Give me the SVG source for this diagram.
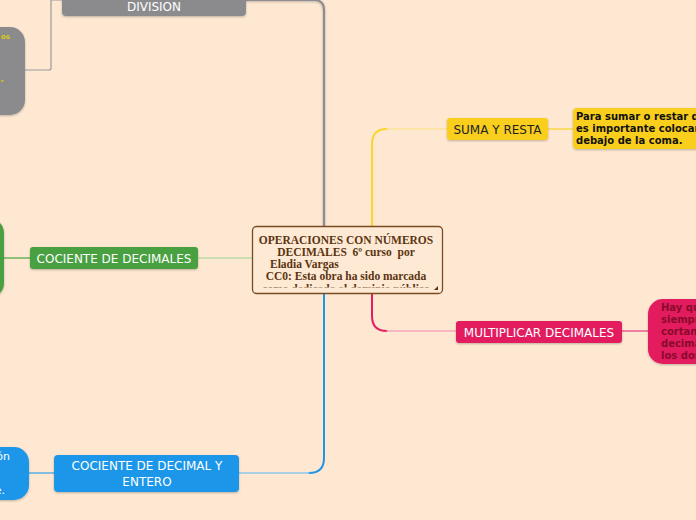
<svg xmlns="http://www.w3.org/2000/svg" width="696" height="520" viewBox="0 0 696 520">
<defs>
<filter id="sh" x="-10%" y="-20%" width="130%" height="160%">
<feDropShadow dx="0" dy="1" stdDeviation="1.2" flood-color="#000" flood-opacity="0.25"/>
</filter>
<clipPath id="cc"><rect x="252" y="226" width="191" height="61.5"/></clipPath>
<style>
.lbl{font-family:"DejaVu Sans",Verdana,sans-serif;font-size:12px;text-anchor:middle}
.note{font-family:"DejaVu Sans",Verdana,sans-serif;font-size:10px;font-weight:bold}
.ctr{font-family:"Liberation Serif","Times New Roman",serif;font-size:11.5px;font-weight:bold;fill:#5b3411}
.c{fill:none;stroke-linecap:round}
</style>
</defs>
<rect width="696" height="520" fill="#FEE8D2"/>
<g id="connectors">
<path class="c" d="M324,226 V10 Q324,0 314,0 H246" stroke="#8d8d91" stroke-width="2.2" filter="url(#sh)"/>
<path class="c" d="M62,0 H51 V68 Q51,70 49,70 H25" stroke="#9a9a9c" stroke-width="1.2"/>
<path class="c" d="M252,258 H198" stroke="#b9daa5" stroke-width="1.5"/>
<path class="c" d="M30,258 H4" stroke="#6db45c" stroke-width="1.5"/>
<path class="c" d="M324,293 V458 Q324,473 309,473" stroke="#1e96e8" stroke-width="2"/>
<path class="c" d="M309,473 H239" stroke="#8cc6ec" stroke-width="1.5"/>
<path class="c" d="M54,473 H29" stroke="#5aaee8" stroke-width="1.5"/>
<path class="c" d="M372,226 V144 Q372,129 387,129" stroke="#fad52c" stroke-width="2"/>
<path class="c" d="M387,129 H447" stroke="#fde39a" stroke-width="1.5"/>
<path class="c" d="M548,129 H573" stroke="#fbdc6a" stroke-width="1.8"/>
<path class="c" d="M372,293 V316 Q372,331 387,331" stroke="#e51c62" stroke-width="2"/>
<path class="c" d="M387,331 H456" stroke="#f6a7bc" stroke-width="1.5"/>
<path class="c" d="M622,331 H648" stroke="#ee7ea2" stroke-width="1.8"/>
</g>
<g id="center">
<rect x="252.5" y="226.5" width="190" height="67" rx="4" fill="#FDE9D4" stroke="#7b4b23" stroke-width="1.3"/>
<g clip-path="url(#cc)">
<text class="ctr" x="346" y="244" text-anchor="middle">OPERACIONES CON NÚMEROS</text>
<text class="ctr" x="346" y="256" text-anchor="middle" xml:space="preserve">DECIMALES  6º curso  por</text>
<text class="ctr" x="270" y="268">Eladia Vargas</text>
<text class="ctr" x="346" y="280" text-anchor="middle">CC0: Esta obra ha sido marcada</text>
<text class="ctr" x="346" y="293" text-anchor="middle">como dedicada al dominio público</text>
</g>
<path d="M438,286 L438,290 L434,290 Z" fill="#5b3411"/>
</g>
<g id="division">
<rect x="62" y="-12" width="184" height="28" rx="4" fill="#8b8b8e" filter="url(#sh)"/>
<text class="lbl" x="154" y="11" fill="#ffffff">DIVISION</text>
</g>
<g id="division-note">
<rect x="-100" y="27" width="125" height="88" rx="15" fill="#8b8b8e" filter="url(#sh)"/>
<text x="10" y="39" text-anchor="end" font-family="'DejaVu Sans',sans-serif" font-size="7" font-weight="bold" fill="#d8cc10">os</text>
<text x="4" y="85" text-anchor="end" font-family="'DejaVu Sans',sans-serif" font-size="7" font-weight="bold" fill="#d8cc10">"</text>
</g>
<g id="cociente-decimales">
<rect x="30" y="247" width="168" height="22" rx="3" fill="#4aa03f" filter="url(#sh)"/>
<text class="lbl" x="114" y="262.5" fill="#ffffff">COCIENTE DE DECIMALES</text>
</g>
<g id="cociente-decimales-note">
<rect x="-100" y="218" width="104" height="80" rx="15" fill="#4aa03f" filter="url(#sh)"/>
</g>
<g id="cociente-entero">
<rect x="54" y="455" width="185" height="37" rx="4" fill="#1e96e8" filter="url(#sh)"/>
<text class="lbl" x="147" y="470" fill="#ffffff">COCIENTE DE DECIMAL Y</text>
<text class="lbl" x="147" y="486" fill="#ffffff">ENTERO</text>
</g>
<g id="cociente-entero-note">
<rect x="-100" y="447" width="129" height="53" rx="15" fill="#1e96e8" filter="url(#sh)"/>
<text x="10" y="460" text-anchor="end" font-family="'DejaVu Sans',sans-serif" font-size="11" fill="#ffffff">ón</text>
<text x="5" y="494" text-anchor="end" font-family="'DejaVu Sans',sans-serif" font-size="11" fill="#ffffff">e.</text>
</g>
<g id="suma">
<rect x="447" y="118" width="101" height="22" rx="3" fill="#f9ce1d" filter="url(#sh)"/>
<text class="lbl" x="497.5" y="134" fill="#222222">SUMA Y RESTA</text>
</g>
<g id="suma-note">
<rect x="573" y="108" width="160" height="41" rx="4" fill="#f9ce1d" filter="url(#sh)"/>
<text class="note" x="576" y="120" fill="#111111">Para sumar o restar d</text>
<text class="note" x="576" y="132" fill="#111111">es importante colocar</text>
<text class="note" x="576" y="144" fill="#111111">debajo de la coma.</text>
</g>
<g id="multiplicar">
<rect x="456" y="321" width="166" height="22" rx="3" fill="#e21a5e" filter="url(#sh)"/>
<text class="lbl" x="539" y="336.5" fill="#ffffff">MULTIPLICAR DECIMALES</text>
</g>
<g id="multiplicar-note">
<rect x="648" y="299" width="120" height="65" rx="15" fill="#e21a5e" filter="url(#sh)"/>
<text class="note" x="661" y="311" fill="#8a0a2c">Hay qu</text>
<text class="note" x="661" y="323" fill="#8a0a2c">siempr</text>
<text class="note" x="661" y="335" fill="#8a0a2c">cortan</text>
<text class="note" x="661" y="347" fill="#8a0a2c">decima</text>
<text class="note" x="661" y="358.5" fill="#8a0a2c">los dos</text>
</g>
</svg>
